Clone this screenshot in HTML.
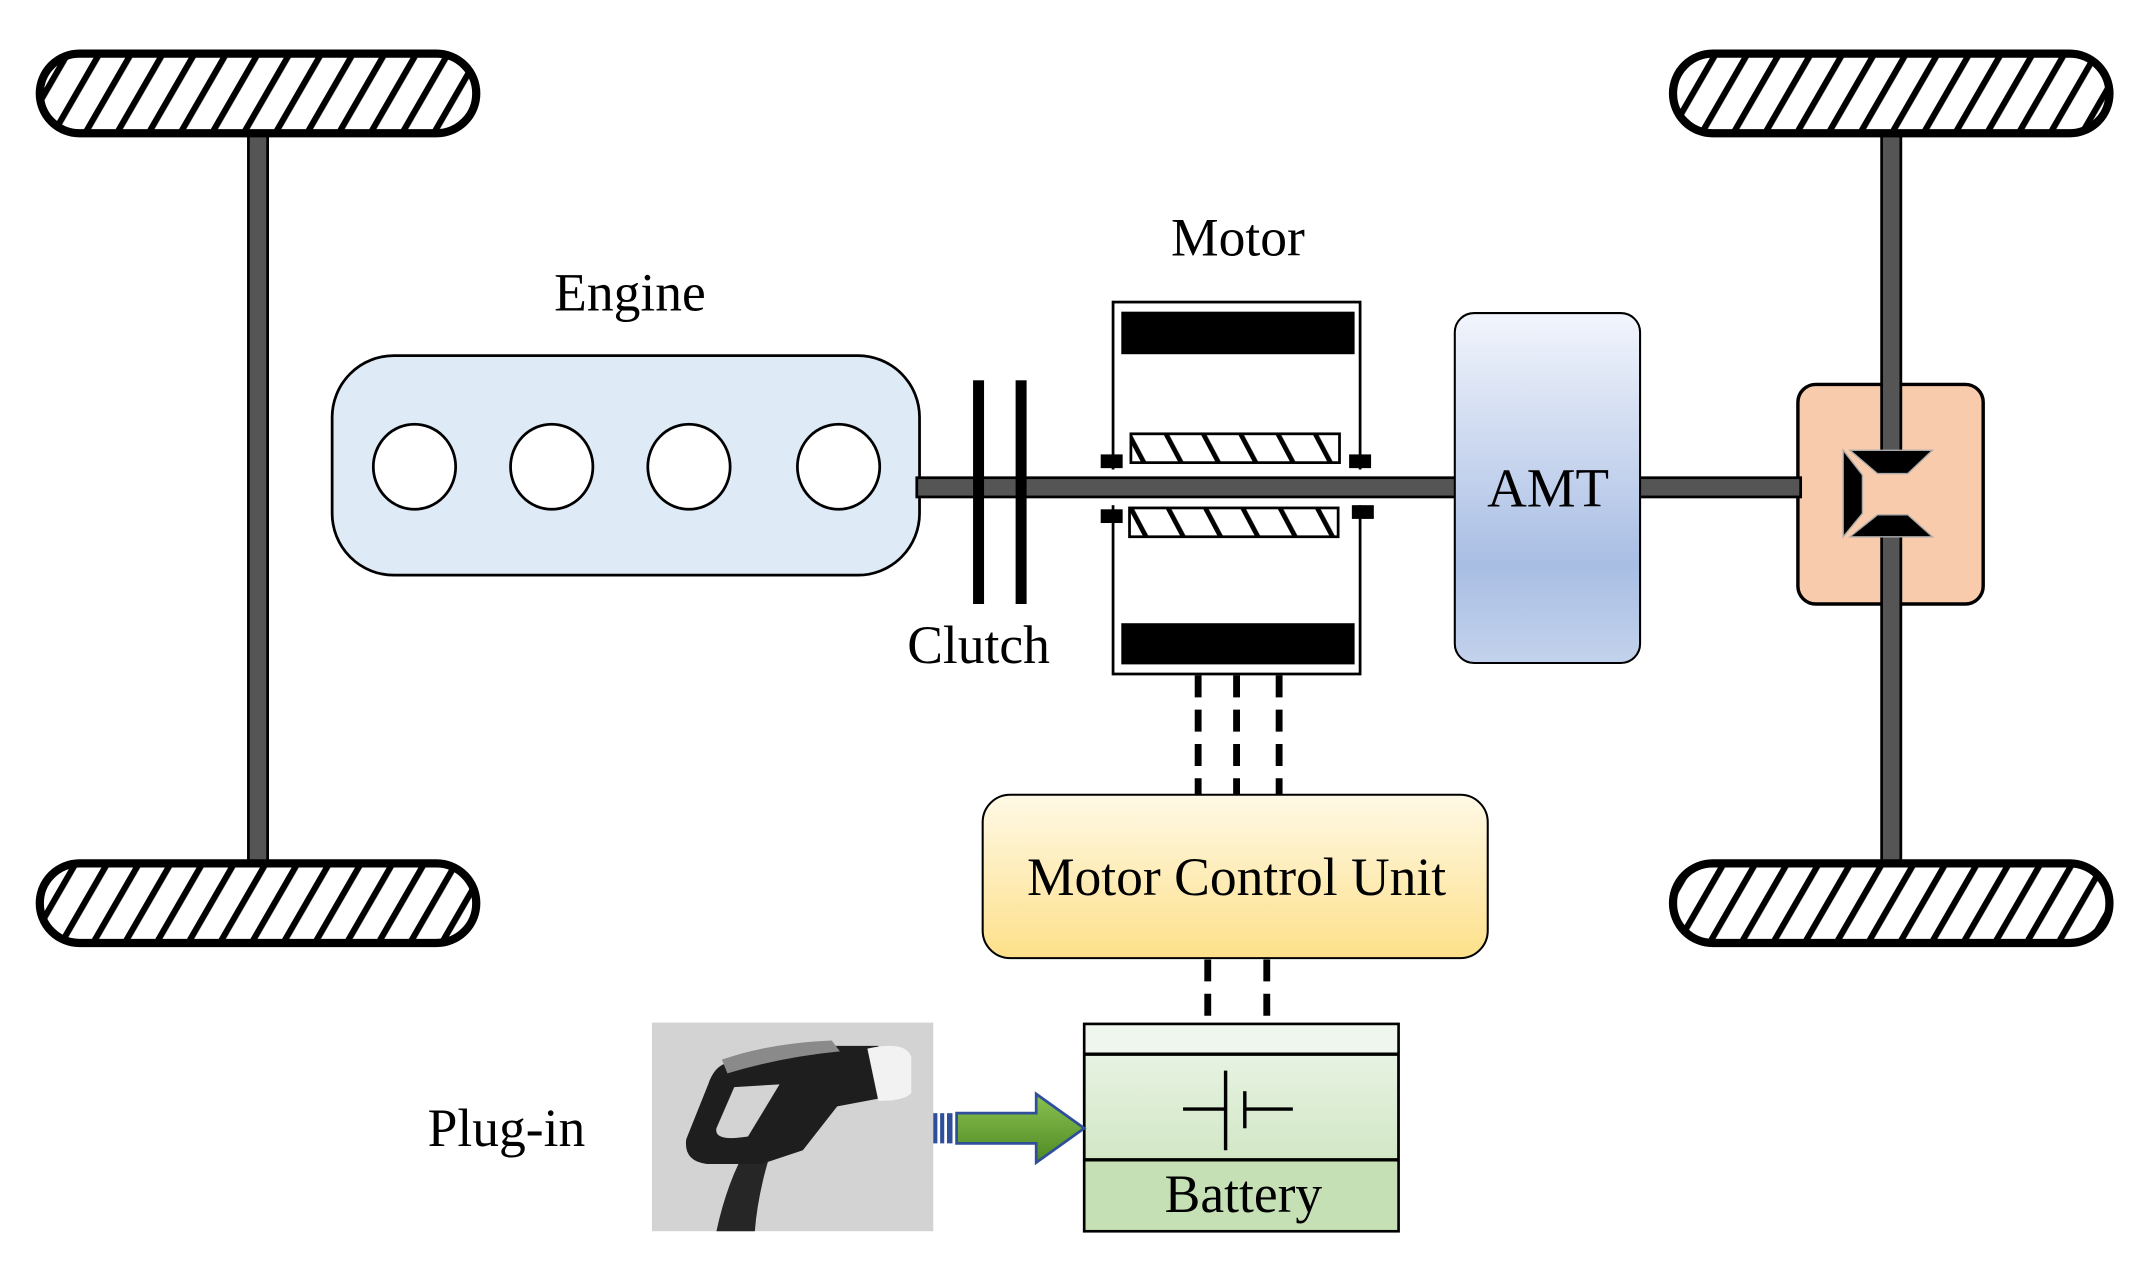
<!DOCTYPE html>
<html><head><meta charset="utf-8"><style>html,body{margin:0;padding:0;background:#fff}svg{display:block}</style></head><body>
<svg width="2152" height="1278" viewBox="0 0 1568 931" xmlns="http://www.w3.org/2000/svg" font-family="Liberation Serif, serif">
<defs>
<pattern id="h" width="20" height="20" patternUnits="userSpaceOnUse" patternTransform="rotate(30)">
<rect width="20" height="20" fill="#fff"/><rect width="4.5" height="20" fill="#000"/></pattern>
<pattern id="h2" width="24" height="24" patternUnits="userSpaceOnUse" patternTransform="rotate(-28)">
<rect width="24" height="24" fill="#fff"/><rect width="3.5" height="24" fill="#000"/></pattern>
<linearGradient id="amt" x1="0" y1="0" x2="0" y2="1"><stop offset="0" stop-color="#f2f5fc"/><stop offset="0.72" stop-color="#a9bee4"/><stop offset="1" stop-color="#c3d2ec"/></linearGradient>
<linearGradient id="mcu" x1="0" y1="0" x2="0" y2="1"><stop offset="0" stop-color="#fff9e6"/><stop offset="1" stop-color="#fde08a"/></linearGradient>
<linearGradient id="bat" x1="0" y1="0" x2="0" y2="1"><stop offset="0" stop-color="#eef6eb"/><stop offset="1" stop-color="#c3dfb2"/></linearGradient>
<linearGradient id="arr" x1="0" y1="0" x2="0" y2="1"><stop offset="0" stop-color="#8cc152"/><stop offset="1" stop-color="#4e8a22"/></linearGradient>
</defs>
<!-- left axle -->
<rect x="181" y="96" width="14" height="533" fill="#555" stroke="#000" stroke-width="2"/>
<!-- diff -->
<rect x="1310" y="280" width="135" height="160" rx="13" fill="#f7cbac" stroke="#000" stroke-width="2.5"/>
<!-- right axle in two parts -->
<rect x="1371" y="96" width="14" height="234" fill="#555" stroke="#000" stroke-width="2"/>
<rect x="1371" y="390" width="14" height="239" fill="#555" stroke="#000" stroke-width="2"/>
<path d="M1348 328 L1408 328 L1390 345 L1368 345 Z" fill="#000" stroke="#aaa" stroke-width="1"/>
<path d="M1348 391 L1408 391 L1390 375 L1368 375 Z" fill="#000" stroke="#aaa" stroke-width="1"/>
<path d="M1343 328 L1357 346 L1357 374 L1343 391 Z" fill="#000" stroke="#aaa" stroke-width="1"/>
<!-- wheels -->
<g stroke="#000" stroke-width="6" fill="url(#h)">
<rect x="29" y="39" width="318" height="58" rx="29"/>
<rect x="1219" y="39" width="318" height="58" rx="29"/>
<rect x="29" y="629" width="318" height="58" rx="29"/>
<rect x="1219" y="629" width="318" height="58" rx="29"/>
</g>
<!-- engine -->
<rect x="242" y="259" width="428" height="160" rx="45" fill="#deeaf6" stroke="#000" stroke-width="2"/>
<g fill="#fff" stroke="#000" stroke-width="2">
<ellipse cx="302" cy="340" rx="30" ry="31"/><ellipse cx="402" cy="340" rx="30" ry="31"/>
<ellipse cx="502" cy="340" rx="30" ry="31"/><ellipse cx="611" cy="340" rx="30" ry="31"/></g>
<!-- motor -->
<rect x="811" y="220" width="180" height="271" fill="#fff" stroke="#000" stroke-width="2"/>
<rect x="804" y="342" width="194" height="26" fill="#fff"/>
<rect x="817" y="227" width="170" height="31" fill="#000"/>
<rect x="817" y="454" width="170" height="30" fill="#000"/>
<rect x="824" y="316" width="152" height="21" fill="url(#h2)" stroke="#000" stroke-width="2"/>
<rect x="823" y="370" width="152" height="21" fill="url(#h2)" stroke="#000" stroke-width="2"/>
<rect x="802" y="331" width="16" height="10" fill="#000"/>
<rect x="983" y="331" width="16" height="10" fill="#000"/>
<rect x="802" y="371" width="16" height="10" fill="#000"/>
<rect x="985" y="368" width="16" height="10" fill="#000"/>
<!-- shafts -->
<rect x="668" y="348" width="394" height="14" fill="#555" stroke="#000" stroke-width="2"/>
<rect x="1193" y="348" width="119" height="14" fill="#555" stroke="#000" stroke-width="2"/>
<!-- clutch -->
<rect x="709" y="277" width="8" height="163" fill="#000"/>
<rect x="740" y="277" width="8" height="163" fill="#000"/>
<!-- AMT -->
<rect x="1060" y="228" width="135" height="255" rx="14" fill="url(#amt)" stroke="#000" stroke-width="1.5"/>
<text x="1128" y="369" font-size="40" text-anchor="middle">AMT</text>
<!-- dashed -->
<g stroke="#000" stroke-width="5" stroke-dasharray="16,9">
<line x1="873" y1="492" x2="873" y2="579"/><line x1="901" y1="492" x2="901" y2="579"/><line x1="932" y1="492" x2="932" y2="579"/>
<line x1="880" y1="699" x2="880" y2="746"/><line x1="923" y1="699" x2="923" y2="746"/>
</g>
<!-- MCU -->
<rect x="716" y="579" width="368" height="119" rx="20" fill="url(#mcu)" stroke="#000" stroke-width="1.5"/>
<text x="901" y="652" font-size="39" text-anchor="middle">Motor Control Unit</text>
<!-- battery -->
<rect x="790" y="746" width="229" height="151" fill="url(#bat)" stroke="#000" stroke-width="2"/>
<rect x="791" y="747" width="227" height="21" fill="#eff6ee"/>
<rect x="791" y="846" width="227" height="50" fill="#c6e0b5"/>
<line x1="790" y1="768" x2="1019" y2="768" stroke="#000" stroke-width="2.5"/>
<line x1="790" y1="845" x2="1019" y2="845" stroke="#000" stroke-width="2.5"/>
<g stroke="#000" stroke-width="2.5">
<line x1="862" y1="808" x2="893" y2="808"/><line x1="893" y1="780" x2="893" y2="838"/>
<line x1="907" y1="795" x2="907" y2="822"/><line x1="907" y1="808" x2="942" y2="808"/></g>
<text x="906" y="883" font-size="39" text-anchor="middle">Battery</text>
<!-- plug image -->
<rect x="475" y="745" width="205" height="152" fill="#d3d3d3"/>
<path d="M522 897 Q530 860 545 835 L562 838 Q552 870 550 897 Z" fill="#262626"/>
<path d="M528 775 Q545 765 600 762 L640 762 L642 800 L610 806 L585 838 L555 848 L515 848 Q498 846 500 830 L516 790 Q520 778 528 775 Z" fill="#1e1e1e"/>
<path d="M535 792 L568 790 L545 828 Q520 832 522 822 Z" fill="#d3d3d3"/>
<path d="M632 764 Q660 758 664 770 L664 796 Q660 802 640 802 Z" fill="#f2f2f2"/>
<path d="M526 772 Q560 760 606 758 L612 766 Q570 770 530 782 Z" fill="#8a8a8a"/>
<!-- arrow -->
<path d="M697 811 L755 811 L755 797 L790 822 L755 847 L755 833 L697 833 Z" fill="url(#arr)" stroke="#2f4f9a" stroke-width="2"/>
<g fill="#2f4f9a"><rect x="680" y="811" width="3" height="22"/><rect x="685" y="811" width="3" height="22"/><rect x="690" y="811" width="4" height="22"/></g>
<!-- labels -->
<text x="459" y="226" font-size="39" text-anchor="middle">Engine</text>
<text x="902" y="186" font-size="39" text-anchor="middle">Motor</text>
<text x="713" y="483" font-size="39" text-anchor="middle">Clutch</text>
<text x="369" y="835" font-size="39" text-anchor="middle">Plug-in</text>
</svg>
</body></html>
